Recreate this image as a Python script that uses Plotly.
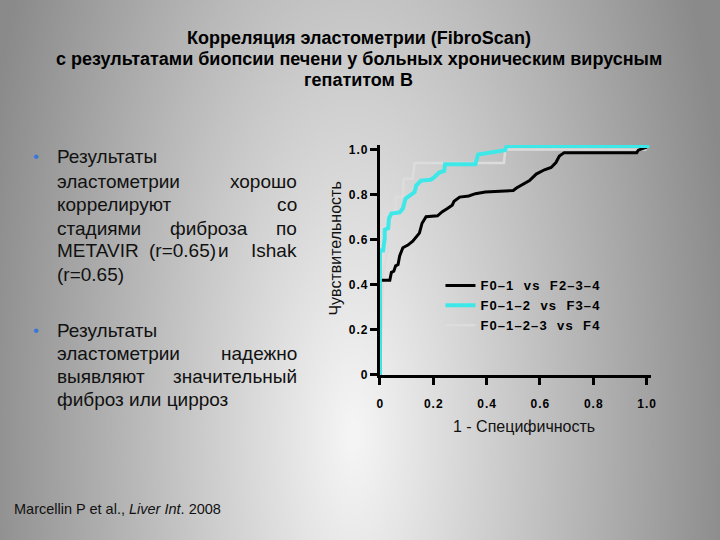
import plotly.graph_objects as go

# ---------------- data ----------------
x_f01 = [0, 0, 0.037, 0.043, 0.052, 0.059, 0.068, 0.074, 0.086, 0.105, 0.123, 0.148, 0.158,
         0.173, 0.216, 0.234, 0.253, 0.271, 0.278, 0.299, 0.333, 0.358, 0.395, 0.444, 0.5,
         0.512, 0.561, 0.586, 0.617, 0.642, 0.660, 0.673, 0.691, 0.963, 0.969, 0.987, 1.0]
y_f01 = [0, 0.42, 0.42, 0.455, 0.46, 0.484, 0.49, 0.528, 0.564, 0.576, 0.593, 0.629, 0.673,
         0.702, 0.706, 0.724, 0.738, 0.753, 0.770, 0.789, 0.794, 0.804, 0.811, 0.815, 0.818,
         0.829, 0.862, 0.891, 0.910, 0.920, 0.942, 0.971, 0.986, 0.986, 0.997, 1.005, 1.01]

x_f012 = [0, 0, 0.012, 0.018, 0.018, 0.031, 0.034, 0.043, 0.074, 0.086, 0.096, 0.111, 0.130,
          0.136, 0.154, 0.191, 0.204, 0.222, 0.241, 0.244, 0.358, 0.368, 0.395, 0.426, 0.469,
          0.475, 1.01]
y_f012 = [0, 0.552, 0.552, 0.607, 0.644, 0.651, 0.695, 0.716, 0.721, 0.738, 0.782, 0.796, 0.811,
          0.840, 0.862, 0.866, 0.877, 0.898, 0.905, 0.935, 0.935, 0.978, 0.983, 0.993, 0.997,
          1.015, 1.015]

x_f0123 = [0, 0.008, 0.012, 0.03, 0.035, 0.056, 0.061, 0.086, 0.089, 0.123, 0.13, 0.465, 0.47, 1.0]
y_f0123 = [0, 0.36, 0.45, 0.56, 0.64, 0.71, 0.79, 0.79, 0.87, 0.87, 0.94, 0.94, 1.0, 1.0]

series_names = ["F0\u20131  vs  F2\u20133\u20134",
                "F0\u20131\u20132  vs  F3\u20134",
                "F0\u20131\u20132\u20133  vs  F4"]

tick_vals = [0, 0.2, 0.4, 0.6, 0.8, 1.0]
tick_text = ["0", "0.2", "0.4", "0.6", "0.8", "1.0"]

title_lines = ["Корреляция эластометрии (FibroScan)",
               "с результатами биопсии печени у больных хроническим вирусным",
               "гепатитом В"]
x_title = "1 - Специфичность"
y_title = "Чувствительность"

FONT = "Liberation Sans, Arial, sans-serif"
W, H = 720, 540


def spaced(s):
    # emulate letter spacing with hair spaces
    return "\u200a".join(list(s))


fig = go.Figure()

fig.add_trace(go.Scatter(x=x_f0123, y=y_f0123, mode="lines", name=spaced(series_names[2]),
                         line=dict(color="#dcdcdc", width=2.5), legendrank=3))
fig.add_trace(go.Scatter(x=x_f01, y=y_f01, mode="lines", name=spaced(series_names[0]),
                         line=dict(color="#000000", width=3), legendrank=1))
fig.add_trace(go.Scatter(x=x_f012, y=y_f012, mode="lines", name=spaced(series_names[1]),
                         line=dict(color="#3ee8e8", width=4), legendrank=2))

# ---------------- background: radial gradient via concentric ellipses ----------------
shapes = []
cx, cy = 355, 440          # centre in px
ax_r, ay_r = 360, 900      # radii at d = 1
for c in range(138, 245):
    d = (246 - c) / 100.0
    col = f"rgb({c},{c},{c})"
    x0 = (cx - ax_r * d) / W
    x1 = (cx + ax_r * d) / W
    y0 = 1 - (cy + ay_r * d) / H
    y1 = 1 - (cy - ay_r * d) / H
    shapes.append(dict(type="circle", xref="paper", yref="paper", x0=x0, x1=x1, y0=y0, y1=y1,
                       fillcolor=col, line=dict(width=0), layer="below"))

# ---------------- annotations ----------------
ann = []
for t, yy in zip(title_lines, (37, 58, 79)):
    ann.append(dict(text=f"<b>{t}</b>", x=0.5, y=1 - yy / H,
                    xref="paper", yref="paper", xanchor="center", yanchor="middle",
                    showarrow=False, font=dict(family=FONT, size=18, color="#000")))

body = [
    (157, [("Результаты", 54, "left")]),
    (183, [("эластометрии", 54, "left"), ("хорошо", 299, "right")]),
    (206, [("коррелируют", 54, "left"), ("со", 299, "right")]),
    (230, [("стадиями", 54, "left"), ("фиброза", 168, "left"), ("по", 299, "right")]),
    (253, [("METAVIR", 54, "left"), ("(r=0.65)", 147, "left"), ("и", 217, "left"), ("Ishak", 299, "right")]),
    (277, [("(r=0.65)", 54, "left")]),
    (334, [("Результаты", 54, "left")]),
    (357, [("эластометрии", 54, "left"), ("надежно", 299, "right")]),
    (381, [("выявляют", 54, "left"), ("значительный", 299, "right")]),
    (404, [("фиброз или цирроз", 54, "left")]),
]
for yy, words in body:
    for w, xx, anc in words:
        ann.append(dict(text=w, x=xx / W, y=1 - yy / H, xref="paper", yref="paper",
                        xanchor=anc, yanchor="middle", showarrow=False, borderpad=0,
                        font=dict(family=FONT, size=19, color="#111")))
for yy in (157, 334):
    ann.append(dict(text="•", x=33 / W, y=1 - yy / H, xref="paper", yref="paper",
                    xanchor="center", yanchor="middle", showarrow=False,
                    font=dict(family=FONT, size=17, color="#3a78d6")))

ann.append(dict(text=x_title, x=528 / W, y=1 - 432 / H, xref="paper", yref="paper",
                xanchor="center", yanchor="middle", showarrow=False,
                font=dict(family=FONT, size=16, color="#111")))
ann.append(dict(text=y_title, x=337 / W, y=1 - 251 / H, xref="paper", yref="paper",
                xanchor="center", yanchor="middle", showarrow=False, textangle=-90,
                font=dict(family=FONT, size=16, color="#111")))
ann.append(dict(text="Marcellin P et al., <i>Liver Int</i>. 2008", x=9 / W, y=1 - 516 / H,
                xref="paper", yref="paper", xanchor="left", yanchor="middle", showarrow=False,
                font=dict(family=FONT, size=14.5, color="#111")))

tick_font = dict(family=FONT, size=12, color="#000", weight="bold")

fig.update_layout(
    width=W, height=H,
    margin=dict(l=0, r=0, t=0, b=0),
    paper_bgcolor="rgb(138,138,138)",
    plot_bgcolor="rgba(0,0,0,0)",
    shapes=shapes,
    annotations=ann,
    showlegend=True,
    legend=dict(x=443 / W, y=1 - 273 / H, xanchor="left", yanchor="top",
                bgcolor="rgba(0,0,0,0)", borderwidth=0, itemwidth=30,
                font=dict(family=FONT, size=13, color="#000", weight="bold"),
                tracegroupgap=0),
    xaxis=dict(domain=[381.7 / W, 655.8 / W], range=[0, 1.015], tickvals=tick_vals,
               ticktext=[spaced(t) for t in tick_text], showgrid=False, zeroline=False,
               showline=True, linecolor="#000", linewidth=3, ticks="outside", ticklen=7,
               tickwidth=2.5, tickcolor="#000", tickfont=tick_font, ticklabelstandoff=9),
    yaxis=dict(domain=[1 - 379.3 / H, 1 - 145.4 / H], range=[0, 1.02], tickvals=tick_vals,
               ticktext=[spaced(t) for t in tick_text], showgrid=False, zeroline=False,
               showline=True, linecolor="#000", linewidth=3, ticks="outside", ticklen=7,
               tickwidth=2.5, tickcolor="#000", tickfont=tick_font),
)

fig.write_html("out.html", post_script="document.body.style.margin='0';",
               config={"displayModeBar": False})
